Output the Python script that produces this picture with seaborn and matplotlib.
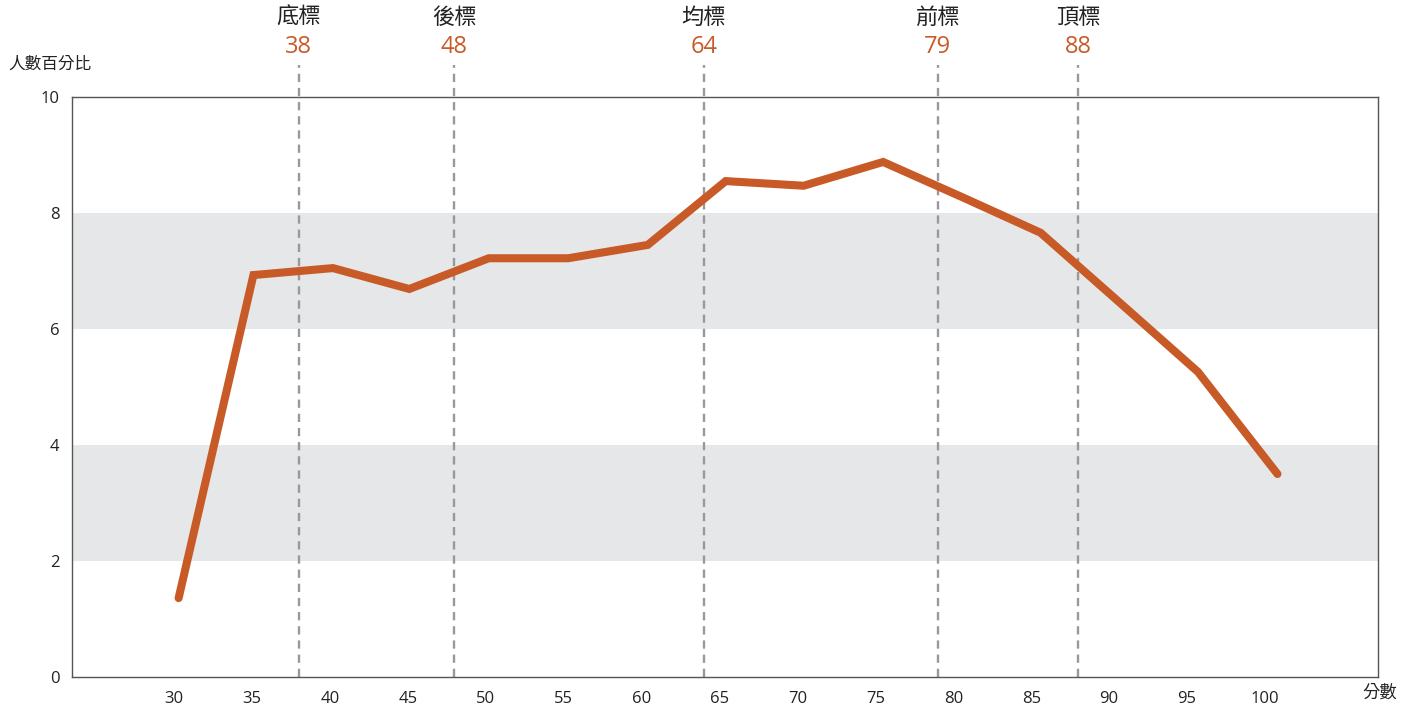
import pandas as pd
import numpy as np
from matplotlib import pyplot as plt
import seaborn as sns

# score position of each point and share of students (%)
score_x = [30.3, 35.1, 40.2, 45.1, 50.2, 55.3, 60.4, 65.4, 70.4, 75.5, 80.6, 85.6, 90.7, 95.7, 100.8]
percent = [1.36, 6.93, 7.05, 6.69, 7.22, 7.22, 7.45, 8.55, 8.47, 8.88, 8.27, 7.66, 6.45, 5.26, 3.50]

x_ticks = [30, 35, 40, 45, 50, 55, 60, 65, 70, 75, 80, 85, 90, 95, 100]
y_ticks = [0, 2, 4, 6, 8, 10]

mark_names = ["底標", "後標", "均標", "前標", "頂標"]
mark_values = [38, 48, 64, 79, 88]

orange = "#C85A28"

sns.set_style("white")
plt.rcParams["font.family"] = ["Open Sans", "Noto Sans CJK TC", "DejaVu Sans"]

df = pd.DataFrame({"score": score_x, "percent": percent})

fig = plt.figure(figsize=(14.13, 7.11), dpi=100)
ax = fig.add_axes([72 / 1413, 34 / 711, (1378 - 72) / 1413, (677 - 97) / 711])

# grey bands
ax.axhspan(2, 4, color="#E6E7E8", lw=0, zorder=0)
ax.axhspan(6, 8, color="#E6E7E8", lw=0, zorder=0)

sns.lineplot(data=df, x="score", y="percent", ax=ax, color=orange, lw=5.8,
             solid_capstyle="round", solid_joinstyle="miter", zorder=3)

ax.set_xlim(23.46, 107.25)
ax.set_ylim(0, 10)

for name, v in zip(mark_names, mark_values):
    ax.plot([v, v], [0, 10.55], color="#999999", lw=1.7, ls=(0, (3.5, 2.5)),
            clip_on=False, zorder=2)
    ax.text(v, 1.136, name, transform=ax.get_xaxis_transform(), ha="center",
            va="center", fontsize=16, color="#222222")
    ax.text(v, 1.086, str(v), transform=ax.get_xaxis_transform(), ha="center",
            va="center", fontsize=17, color=orange)

ax.set_xticks(x_ticks)
ax.set_yticks(y_ticks)
ax.tick_params(length=0, labelsize=12, colors="#222222")
ax.tick_params(axis="x", pad=10)
ax.tick_params(axis="y", pad=9)
ax.set_xlabel("")
ax.set_ylabel("")

for s in ax.spines.values():
    s.set_color("#555555")
    s.set_linewidth(1)

fig.text(8 / 1413, 1 - 65 / 711, "人數百分比", ha="left", va="center", fontsize=12, color="#222222")
fig.text(1380 / 1413, 1 - 693 / 711, "分數", ha="center", va="center", fontsize=12.5, color="#222222")

plt.savefig("out.png", dpi=100)
